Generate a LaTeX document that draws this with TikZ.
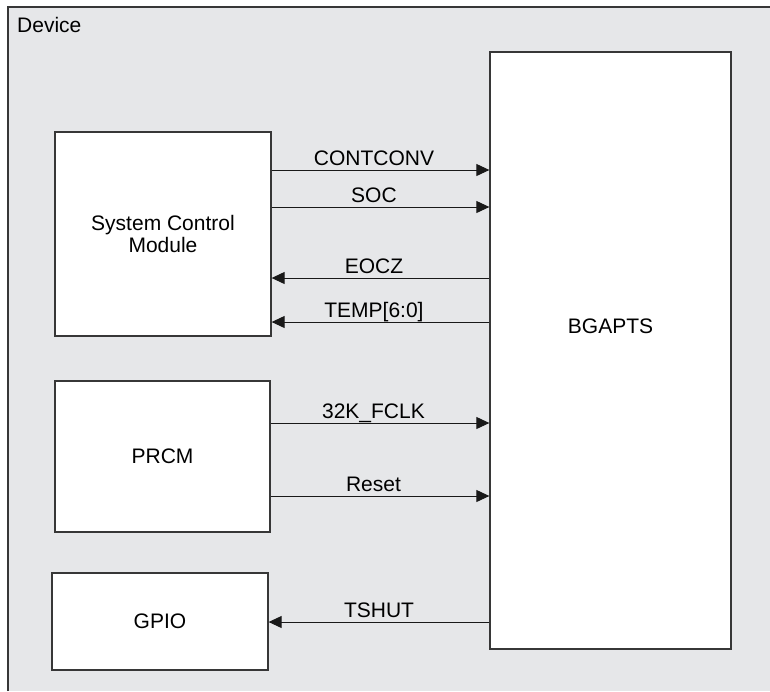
\documentclass[tikz,border=0pt]{standalone}
\usepackage{fontspec}
\setmainfont{Liberation Sans}
\usepackage{xcolor}
\usepackage{tikz}
\usetikzlibrary{arrows.meta}
\definecolor{devgray}{RGB}{230,231,233}
\definecolor{edgegray}{RGB}{55,55,55}

\begin{document}
\begin{tikzpicture}[x=1pt, y=-1pt,
  font=\fontsize{21}{22}\selectfont,
  block/.style={draw=edgegray, line width=1.3pt, fill=white, inner sep=0pt, align=center},
  sig/.style={draw=black!90, line width=1pt},
  fwd/.style={-{Triangle[length=13pt, width=12pt]}},
  back/.style={{Triangle[length=13pt, width=12pt]}-},
  lbl/.style={anchor=base, inner sep=0pt, yshift=5pt}]
\useasboundingbox (0,0) rectangle (770,691);

% Device frame
\fill[devgray] (8,7) rectangle (770,691);
\draw[edgegray, line width=1.3pt] (8,691) -- (8,7) -- (770,7);
\node[anchor=base west, inner sep=0pt] (dev) at (17,32) {Device};

% Blocks
\node[block, minimum width=216pt, minimum height=204pt] (scm) at (163,234) {System Control\\Module};
\node[block, minimum width=241pt, minimum height=597pt] (bg) at (610.5,350.5) {};
\node (bgtxt) at ([yshift=24pt]bg.center) {BGAPTS};
\node[block, minimum width=215pt, minimum height=151pt] (prcm) at (162.5,456.5) {PRCM};
\node[block, minimum width=216pt, minimum height=97pt] (gpio) at (160,621.5) {GPIO};

% System Control Module <-> BGAPTS
\foreach \y/\txt in {170/CONTCONV, 207/SOC}
  \draw[sig, fwd] (scm.east |- 0,\y) -- node[lbl, pos=0.47] {\txt} (bg.west |- 0,\y);
\foreach \y/\txt in {278/EOCZ, 322/TEMP[6:0]}
  \draw[sig, back] (scm.east |- 0,\y) -- node[lbl, pos=0.47] {\txt} (bg.west |- 0,\y);

% PRCM -> BGAPTS
\foreach \y/\txt in {423/32K\_FCLK, 496/Reset}
  \draw[sig, fwd] (prcm.east |- 0,\y) -- node[lbl, pos=0.47] {\txt} (bg.west |- 0,\y);

% BGAPTS -> GPIO
\draw[sig, back] (gpio.east |- 0,622) -- node[lbl, pos=0.5] {TSHUT} (bg.west |- 0,622);
\end{tikzpicture}
\end{document}
